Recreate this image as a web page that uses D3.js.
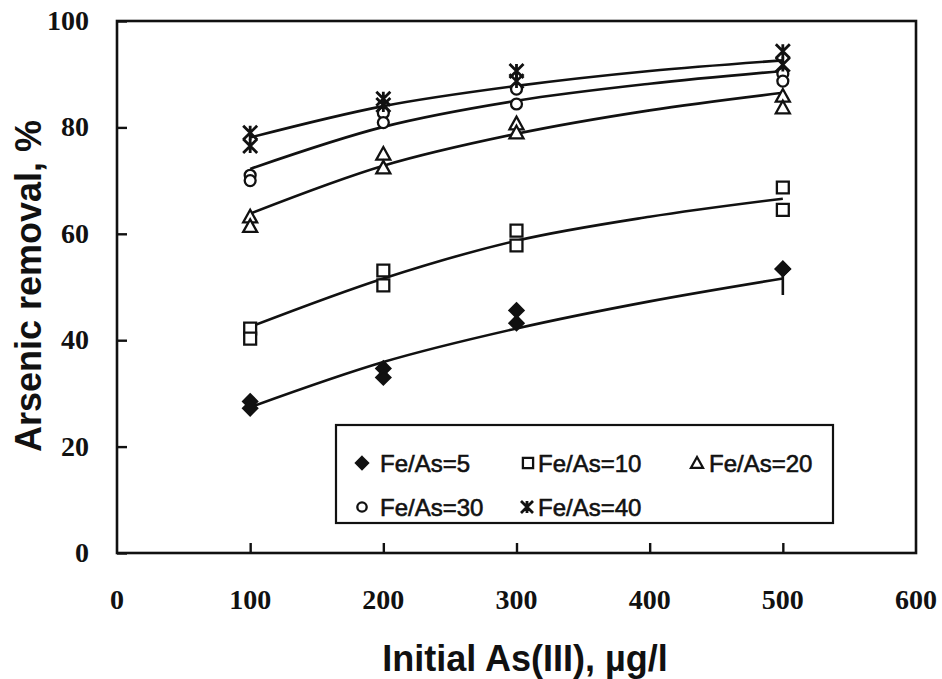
<!DOCTYPE html>
<html>
<head>
<meta charset="utf-8">
<script src="https://cdn.jsdelivr.net/npm/d3@7"></script>
<style>
  body { margin: 0; background: #fff; }
  svg { display: block; }
  .tick-label { font-family: "Liberation Serif", "Times New Roman", serif; font-weight: bold; font-size: 28px; fill: #111; }
  .title { font-family: "Liberation Sans", Arial, sans-serif; font-weight: bold; font-size: 36px; fill: #111; }
  .legend-text { font-family: "Liberation Sans", Arial, sans-serif; font-size: 24px; fill: #111; stroke: #111; stroke-width: 0.6px; }
</style>
</head>
<body>
<svg id="chart" width="942" height="679"></svg>
<script>
// data
const concentrations = [100, 200, 300, 500];
const fitX = [100, 200, 300, 400, 500];
const xTicks = [0, 100, 200, 300, 400, 500, 600];
const yTicks = [0, 20, 40, 60, 80, 100];

// two replicate runs per ratio (A, B)
const fe5A = [28.5, 34.7, 45.6, 53.4];
const fe5B = [27.2, 33.0, 43.2, 53.4];
const fe5Low500 = 48.5; // bar hanging below the 500 point
const fe10A = [42.2, 53.1, 60.6, 68.7];
const fe10B = [40.3, 50.3, 57.8, 64.5];
const fe20A = [63.2, 75.0, 80.7, 85.9];
const fe20B = [61.4, 72.4, 79.0, 83.7];
const fe30A = [71.0, 82.7, 87.2, 90.1];
const fe30B = [70.0, 80.9, 84.4, 88.7];
const fe40A = [79.0, 85.4, 90.6, 94.3];
const fe40B = [76.5, 84.2, 88.7, 91.8];

// fitted curves, read at 100..500
const fit5 = [27.4, 35.9, 42.2, 47.3, 51.6];
const fit10 = [42.5, 51.6, 58.7, 63.2, 66.6];
const fit20 = [63.8, 72.8, 78.8, 83.2, 86.5];
const fit30 = [72.2, 80.1, 85.0, 88.2, 90.6];
const fit40 = [78.1, 84.0, 87.8, 90.6, 92.6];

const seriesNames = ['Fe/As=5', 'Fe/As=10', 'Fe/As=20', 'Fe/As=30', 'Fe/As=40'];

const series = [
  { name: seriesNames[0], shape: 'diamond', reps: [fe5A, fe5B], fit: fit5 },
  { name: seriesNames[1], shape: 'square', reps: [fe10A, fe10B], fit: fit10 },
  { name: seriesNames[2], shape: 'triangle', reps: [fe20A, fe20B], fit: fit20 },
  { name: seriesNames[3], shape: 'circle', reps: [fe30A, fe30B], fit: fit30 },
  { name: seriesNames[4], shape: 'star', reps: [fe40A, fe40B], fit: fit40 }
];

const svg = d3.select('#chart');
const plotLeft = 117, plotRight = 916, plotTop = 21, plotBottom = 553;

const x = d3.scaleLinear().domain([0, 600]).range([plotLeft, plotRight]);
const y = d3.scaleLinear().domain([0, 100]).range([plotBottom, plotTop]);

// marker shapes, s = half size
function markerPath(shape, s) {
  const p = d3.path();
  if (shape === 'diamond') {
    p.moveTo(0, -s); p.lineTo(s, 0); p.lineTo(0, s); p.lineTo(-s, 0); p.closePath();
  } else if (shape === 'square') {
    p.rect(-s * 0.85, -s * 0.85, s * 1.7, s * 1.7);
  } else if (shape === 'triangle') {
    p.moveTo(0, -s); p.lineTo(s, s * 0.8); p.lineTo(-s, s * 0.8); p.closePath();
  } else if (shape === 'circle') {
    p.arc(0, 0, s * 0.78, 0, 2 * Math.PI);
  } else if (shape === 'star') {
    p.moveTo(-s, -s); p.lineTo(s, s);
    p.moveTo(s, -s); p.lineTo(-s, s);
    p.moveTo(0, -s); p.lineTo(0, s);
  }
  return p.toString();
}

function drawMarker(g, shape, s) {
  const filled = shape === 'diamond';
  g.append('path')
    .attr('d', markerPath(shape, s))
    .attr('fill', filled ? '#111' : (shape === 'star' ? 'none' : '#fff'))
    .attr('stroke', '#111')
    .attr('stroke-width', shape === 'star' ? 2.8 : 2.3)
    .attr('stroke-linejoin', 'miter');
}

// frame
svg.append('rect')
  .attr('x', plotLeft).attr('y', plotTop)
  .attr('width', plotRight - plotLeft).attr('height', plotBottom - plotTop)
  .attr('fill', 'none').attr('stroke', '#111').attr('stroke-width', 2.6);

// inward ticks
const yAxis = d3.axisRight(y).tickValues(yTicks).tickSize(10).tickFormat('');
const gy = svg.append('g').attr('transform', `translate(${plotLeft},0)`).call(yAxis);
gy.select('.domain').remove();
gy.selectAll('.tick line').attr('stroke', '#111').attr('stroke-width', 2.4);

const xAxis = d3.axisTop(x).tickValues(xTicks.slice(1, -1)).tickSize(10).tickFormat('');
const gx = svg.append('g').attr('transform', `translate(0,${plotBottom})`).call(xAxis);
gx.select('.domain').remove();
gx.selectAll('.tick line').attr('stroke', '#111').attr('stroke-width', 2.4);

// tick labels
svg.selectAll('.ylab').data(yTicks).enter().append('text')
  .attr('class', 'tick-label')
  .attr('x', 89).attr('y', d => y(d) + 9)
  .attr('text-anchor', 'end')
  .text(d => d);

svg.selectAll('.xlab').data(xTicks).enter().append('text')
  .attr('class', 'tick-label')
  .attr('x', d => x(d)).attr('y', 609)
  .attr('text-anchor', 'middle')
  .text(d => d);

// titles
svg.append('text').attr('class', 'title')
  .attr('transform', 'translate(41,286) rotate(-90)')
  .attr('text-anchor', 'middle')
  .text('Arsenic removal, %');

svg.append('text').attr('class', 'title')
  .attr('x', 525).attr('y', 671)
  .attr('text-anchor', 'middle')
  .text('Initial As(III), µg/l');

// fitted curves
const line = d3.line()
  .x((d, i) => x(fitX[i]))
  .y(d => y(d))
  .curve(d3.curveMonotoneX);

svg.append('g').selectAll('path').data(series).enter().append('path')
  .attr('d', d => line(d.fit))
  .attr('fill', 'none')
  .attr('stroke', '#111')
  .attr('stroke-width', 2.6);

// bar under Fe/As=5 at 500
svg.append('line')
  .attr('x1', x(500)).attr('x2', x(500))
  .attr('y1', y(fe5A[3])).attr('y2', y(fe5Low500))
  .attr('stroke', '#111').attr('stroke-width', 2.6);

// data markers
series.forEach(s => {
  s.reps.forEach(rep => {
    rep.forEach((v, i) => {
      const g = svg.append('g').attr('transform', `translate(${x(concentrations[i])},${y(v)})`);
      drawMarker(g, s.shape, 7);
    });
  });
});

// legend
const legend = svg.append('g');
legend.append('rect')
  .attr('x', 336).attr('y', 425).attr('width', 497).attr('height', 98)
  .attr('fill', '#fff').attr('stroke', '#111').attr('stroke-width', 2.2);

const legendPos = [
  { mx: 362, tx: 380, ty: 472 },
  { mx: 528, tx: 538, ty: 472 },
  { mx: 697, tx: 709, ty: 472 },
  { mx: 362, tx: 380, ty: 516 },
  { mx: 527, tx: 538, ty: 516 }
];

series.forEach((s, i) => {
  const pos = legendPos[i];
  const g = legend.append('g').attr('transform', `translate(${pos.mx},${pos.ty - 9})`);
  drawMarker(g, s.shape, 6);
  legend.append('text').attr('class', 'legend-text')
    .attr('x', pos.tx).attr('y', pos.ty)
    .text(s.name);
});
</script>
</body>
</html>
